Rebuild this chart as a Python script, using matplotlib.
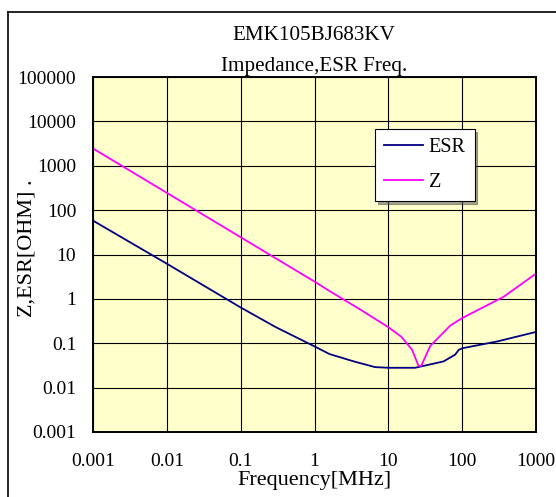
import numpy as np
import matplotlib.pyplot as plt
from matplotlib.lines import Line2D

plt.rcParams['font.family'] = ['Liberation Serif', 'DejaVu Serif']

# values
esr_freq = [0.001, 0.01, 0.1, 0.3, 1, 1.6, 3.4, 6.6, 10, 23, 33, 56, 80, 90, 100, 300, 1000]
esr_vals = [58, 6.2, 0.64, 0.23, 0.085, 0.057, 0.039, 0.029, 0.028, 0.028,
            0.032, 0.039, 0.055, 0.071, 0.077, 0.11, 0.18]

z_freq = [0.001, 0.01, 0.1, 1, 1.6, 4, 10, 15, 21, 25.6, 27.9, 37, 69, 100, 360, 1000]
z_vals = [2450, 245, 24.5, 2.45, 1.5, 0.6, 0.23, 0.14, 0.071, 0.031, 0.031,
          0.087, 0.25, 0.37, 1.1, 3.7]

x_ticks = [0.001, 0.01, 0.1, 1, 10, 100, 1000]
x_labels = ['0.001', '0.01', '0.1', '1', '10', '100', '1000']
y_ticks = [0.001, 0.01, 0.1, 1, 10, 100, 1000, 10000, 100000]
y_labels = ['0.001', '0.01', '0.1', '1', '10', '100', '1000', '10000', '100000']

W, H = 556, 497
fig = plt.figure(figsize=(W / 100, H / 100), dpi=100)
ax = fig.add_axes([93 / W, 1 - 432 / H, 443 / W, 355 / H])
ax.set_facecolor('#FFFFCC')

ax.plot(esr_freq, esr_vals, color='#000080', lw=1.3, label='ESR')
ax.plot(z_freq, z_vals, color='#FF00FF', lw=1.3, label='Z')

ax.set_xscale('log')
ax.set_yscale('log')
ax.set_xlim(0.001, 1000)
ax.set_ylim(0.001, 100000)
ax.set_xticks(x_ticks)
ax.set_xticklabels(x_labels)
ax.set_yticks(y_ticks)
ax.set_yticklabels(y_labels)
ax.minorticks_off()
ax.tick_params(length=0, labelsize=14)
ax.tick_params(axis='x', pad=15)
ax.tick_params(axis='y', pad=12)
ax.grid(True, color='black', lw=0.8)
for s in ax.spines.values():
    s.set_linewidth(1.4)

ax.set_xlabel('Frequency[MHz]', fontsize=16, labelpad=1)
ax.set_ylabel('Z,ESR[OHM] .', fontsize=16)
ax.yaxis.set_label_coords((37 - 93) / 443, 0.518)

fig.text(314 / W, 1 - 36 / H, 'EMK105BJ683KV', ha='center', va='center', fontsize=15.2)
fig.text(314 / W, 1 - 66 / H, 'Impedance,ESR Freq.', ha='center', va='center', fontsize=15.2)

leg = ax.legend(loc='upper left', bbox_to_anchor=(0.637, 0.854), fontsize=14.5,
                frameon=True, fancybox=False, shadow=True, borderaxespad=0,
                handlelength=1.9, handletextpad=0.3, labelspacing=0.8, borderpad=0.45)
leg.get_frame().set_edgecolor('black')
leg.get_frame().set_linewidth(0.8)

# outer chart border (right and bottom fall outside the picture)
fig.add_artist(Line2D([8 / W, 8 / W], [0, 1 - 11.5 / H], color='black', lw=1.2))
fig.add_artist(Line2D([8 / W, 1], [1 - 11.5 / H, 1 - 11.5 / H], color='black', lw=1.2))

fig.savefig('out.png', dpi=100)
